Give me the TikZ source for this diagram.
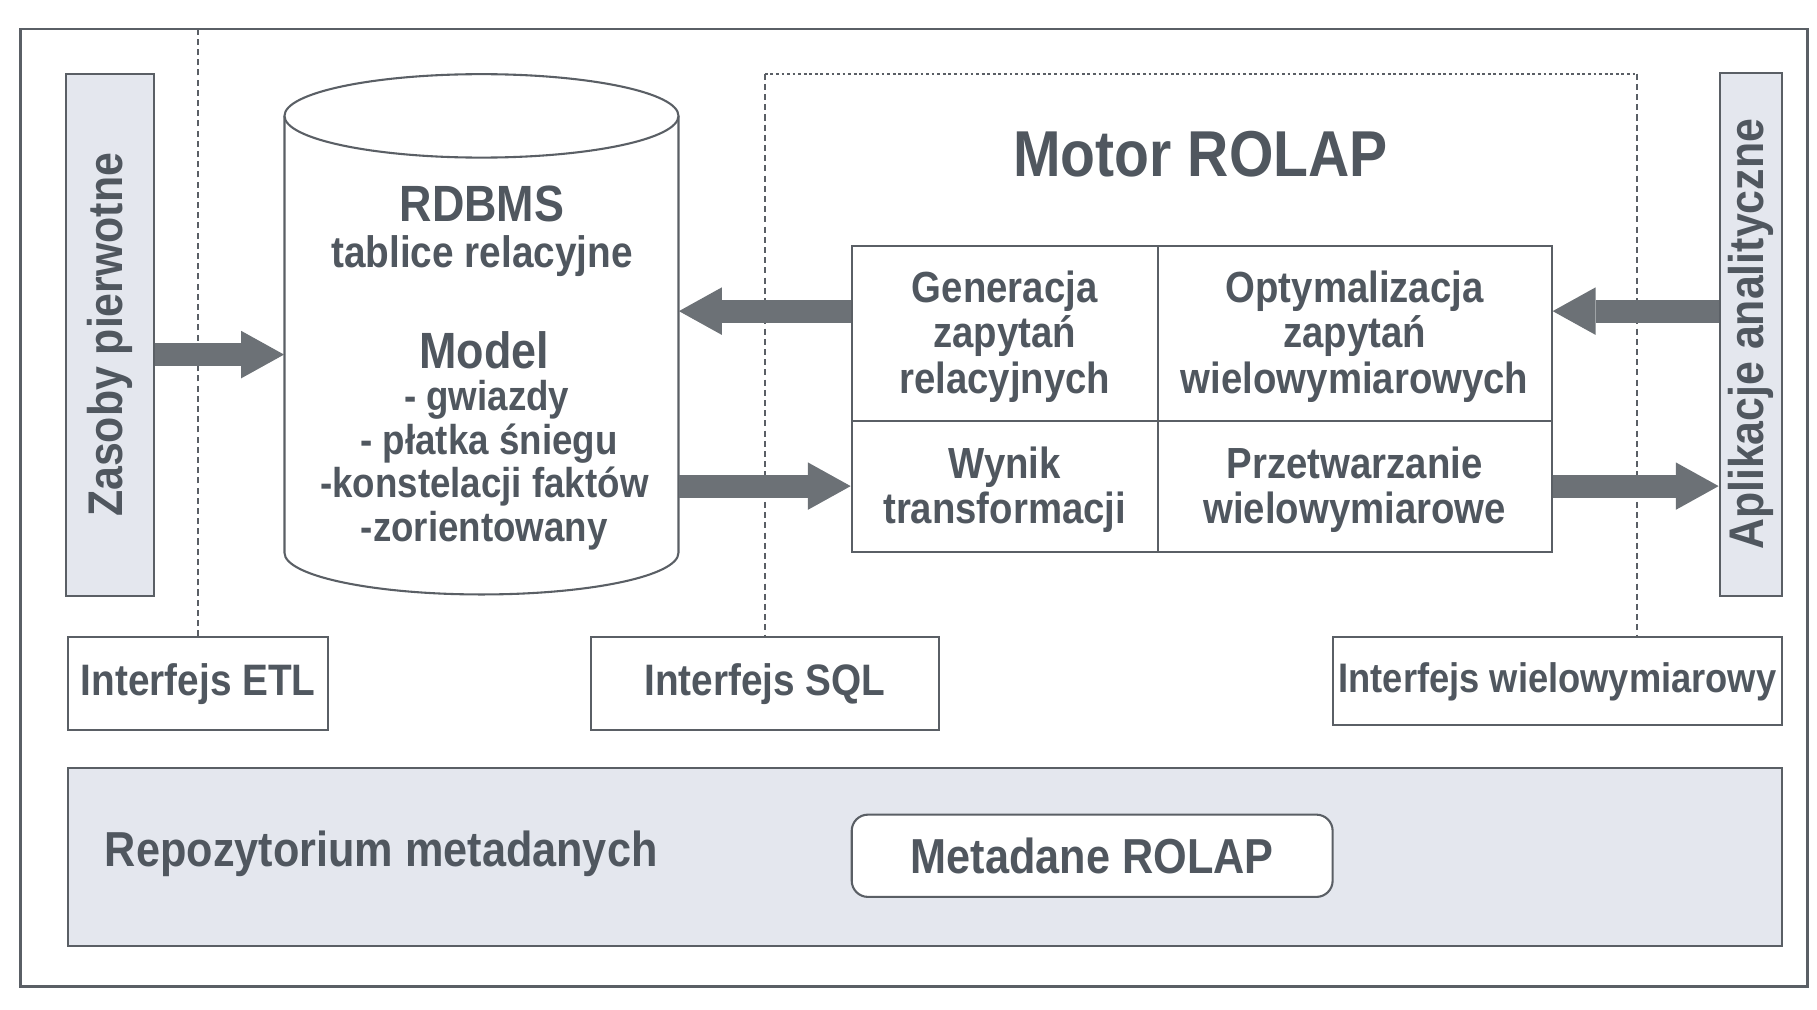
\documentclass[tikz,border=0pt]{standalone}
\usepackage{fontspec}
\setmainfont{Liberation Sans}[FakeStretch=0.88]
\usetikzlibrary{fit,arrows.meta}
\definecolor{ink}{HTML}{50575F}
\definecolor{rule}{HTML}{5A5F65}
\definecolor{panel}{HTML}{E4E7EE}
\definecolor{arrowgray}{HTML}{6C7176}
\newcommand\fs[2]{\fontsize{#1}{#2}\selectfont\bfseries}

\begin{document}
\begin{tikzpicture}[x=0.5pt,y=-0.5pt,
  every node/.style={text=ink},
  outerframe/.style={draw=rule, line width=1.2pt, inner sep=0pt},
  box/.style={draw=rule, line width=0.9pt, fill=white, inner sep=0pt},
  panelbox/.style={box, fill=panel},
  label/.style={align=center, inner sep=0pt},
  guide/.style={draw=rule, line width=0.85pt, dash pattern=on 2.6pt off 1.8pt},
  dotline/.style={draw=rule, line width=0.85pt, dash pattern=on 1.2pt off 1.2pt},
  flow/.style={draw=arrowgray, line width=10pt, -{Triangle[length=18.5pt,width=20.5pt,line width=0pt]}},
  celltext/.style={label, font=\fs{18.8pt}{19.5pt}},
]
\useasboundingbox (0,0) rectangle (1568,871);

% outer frame
\node[outerframe, fit={(18,25)(1560,851)}] (frame) {};

% helper coordinates for the ROLAP engine outline and the arrow rows
\coordinate (rolapNW) at (660,63.6);
\coordinate (rolapNE) at (1413,63.6);
\coordinate (rowS) at (0,306);
\coordinate (rowA) at (0,268.5);
\coordinate (rowB) at (0,419.5);

% interface boxes
\node[box, fit={(59,550)(283,630)}] (etl) {};
\node[label, font=\fs{19pt}{21pt}] (etltxt) at (etl.center) {Interfejs ETL};
\node[box, fit={(510,550)(810,630)}] (sql) {};
\node[label, font=\fs{19pt}{21pt}] (sqltxt) at (sql.center) {Interfejs SQL};
\node[box, fit={(1150,550)(1538,626)}] (wiel) {};
\node[label, font=\fs{17.8pt}{20pt}] (wieltxt) at (wiel.center) {Interfejs wielowymiarowy};

% boundary guides
\draw[guide] (etl.north) -- (etl.north |- frame.north);
\draw[dotline] (rolapNW) -- (rolapNE);
\draw[guide] (rolapNW) -- (sql.north);
\draw[guide] (rolapNE) -- (rolapNE |- wiel.north);

% side bars
\node[panelbox, fit={(57,64)(133,514)}] (zasoby) {};
\node[label, rotate=90, font=\fs{21pt}{24pt}] (zasobytxt) at (zasoby.center) {Zasoby pierwotne};
\node[panelbox, fit={(1484,63)(1538,514)}] (apl) {};
\node[label, rotate=90, font=\fs{21pt}{24pt}] (apltxt) at (apl.center) {Aplikacje analityczne};

% relational database cylinder
\fill[white] (245.5,100) -- (245.5,477) arc[start angle=180,end angle=0,x radius=170,y radius=36] -- (585.5,100) -- cycle;
\draw[rule, line width=0.9pt] (245.5,100) -- (245.5,477) arc[start angle=180,end angle=0,x radius=170,y radius=36] -- (585.5,100);
\draw[rule, line width=0.9pt, fill=white] (415.5,100) ellipse[x radius=170, y radius=36];
\node[inner sep=0pt, fit={(245.5,100)(585.5,477)}] (db) {};

\node[font=\fs{22pt}{24pt}, anchor=base] (rdbms) at (416,191) {RDBMS};
\node[font=\fs{19pt}{21pt}, anchor=base] (tabl) at (416,231) {tablice relacyjne};
\node[font=\fs{22pt}{24pt}, anchor=base] (model) at (418,318) {Model};
\node[font=\fs{18pt}{20pt}, anchor=base] (mgw) at (420,354) {- gwiazdy};
\node[font=\fs{18pt}{20pt}, anchor=base] (mpl) at (422,392) {- płatka śniegu};
\node[font=\fs{18pt}{20pt}, anchor=base] (mko) at (418,429) {-konstelacji faktów};
\node[font=\fs{18pt}{20pt}, anchor=base] (mzo) at (418,467) {-zorientowany};

% ROLAP engine
\node[font=\fs{28pt}{30pt}] (title) at (1036,133) {Motor ROLAP};
\node[box, fit={(735,212)(999,363)}] (gen) {};
\node[box, fit={(999,212)(1339,363)}] (opt) {};
\node[box, fit={(735,363)(999,476)}] (wyn) {};
\node[box, fit={(999,363)(1339,476)}] (prz) {};
\node[celltext] (gentxt) at ([yshift=-1.5pt]gen.center) {Generacja\\zapytań\\relacyjnych};
\node[celltext] (opttxt) at ([yshift=-1.5pt]opt.center) {Optymalizacja\\zapytań\\wielowymiarowych};
\node[celltext] (wyntxt) at ([yshift=-1.5pt]wyn.center) {Wynik\\transformacji};
\node[celltext] (prztxt) at ([yshift=-1.5pt]prz.center) {Przetwarzanie\\wielowymiarowe};

% metadata repository
\node[panelbox, fit={(59,663)(1538,816)}] (repo) {};
\node[label, font=\fs{21.2pt}{23pt}] (repotxt) at (329,737) {Repozytorium metadanych};
\node[box, rounded corners=7pt, fit={(735,703)(1150,774)}] (meta) {};
\node[label, font=\fs{21.2pt}{23pt}] (metatxt) at (meta.center) {Metadane ROLAP};

% data flows
\draw[flow] (zasoby.east |- rowS) -- (db.west |- rowS);
\draw[flow] (gen.west |- rowA) -- (db.east |- rowA);
\draw[flow] (db.east |- rowB) -- (wyn.west |- rowB);
\draw[flow] (apl.west |- rowA) -- (opt.east |- rowA);
\draw[flow] (prz.east |- rowB) -- (apl.west |- rowB);
\end{tikzpicture}
\end{document}
